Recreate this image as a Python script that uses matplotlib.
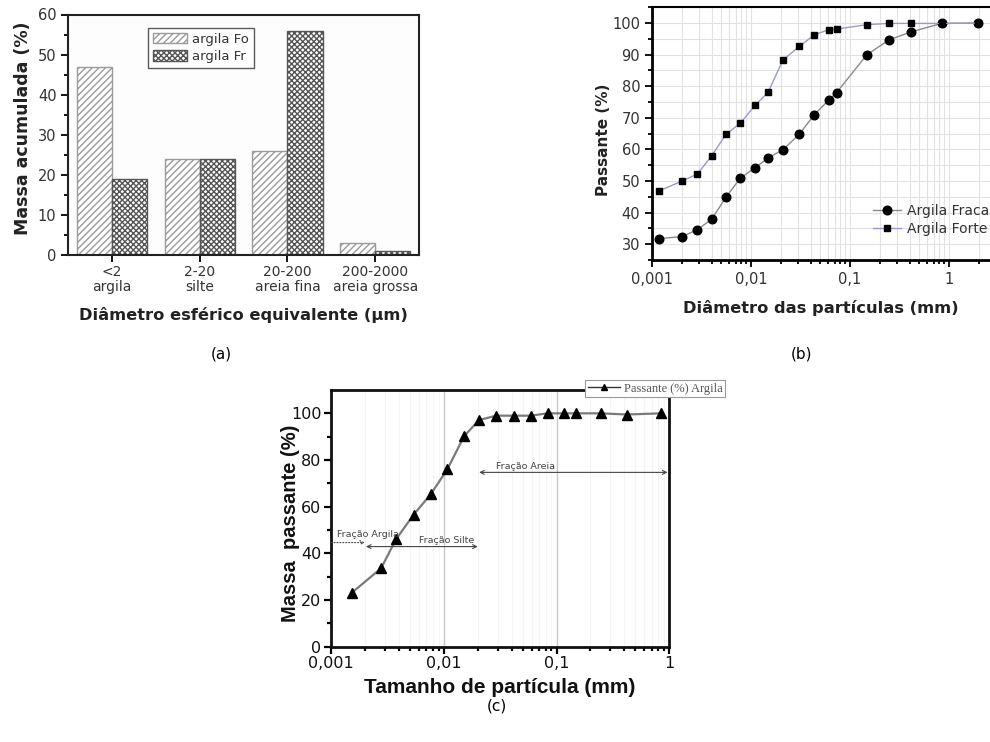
import matplotlib
matplotlib.use("Agg")
import matplotlib.pyplot as plt
import numpy as np
from matplotlib.ticker import (FixedLocator, MultipleLocator, LogLocator,
                               FuncFormatter, NullFormatter)
from matplotlib.lines import Line2D

# ---------------- data ----------------
# (a) cumulative mass per equivalent spherical diameter class
classes = ["<2\nargila", "2-20\nsilte", "20-200\nareia fina", "200-2000\nareia grossa"]
mass_fo = [47, 24, 26, 3]
mass_fr = [19, 24, 56, 1]

# (b) particle size distribution of the two clays
diam_b = [0.00119, 0.00201, 0.00287, 0.00401, 0.00559, 0.0078, 0.0110, 0.0149,
          0.0210, 0.0308, 0.0436, 0.0609, 0.0733, 0.1485, 0.249, 0.413, 0.843, 1.98]
pass_fraca = [31.8, 32.4, 34.6, 37.9, 44.9, 50.9, 54.2, 57.3, 59.9, 64.8,
              71.0, 75.6, 78.0, 90.0, 94.7, 97.2, 99.9, 100.0]
pass_forte = [46.9, 50.0, 52.2, 58.0, 64.8, 68.3, 74.0, 78.1, 88.3, 92.6,
              96.3, 97.9, 98.1, 99.5, 99.9, 99.9, 99.9, 100.0]

# (c) passing mass of the clay
diam_c = [0.00153, 0.00278, 0.00377, 0.00541, 0.00766, 0.01076, 0.0151, 0.0205,
          0.0292, 0.0420, 0.059, 0.0834, 0.1165, 0.149, 0.246, 0.419, 0.844]
pass_c = [23.1, 33.6, 46.0, 56.6, 65.3, 76.0, 90.1, 97.1, 99.0, 99.0, 99.0,
          100.0, 100.0, 100.0, 100.0, 99.5, 100.0]

# size fractions: label, arrow start, arrow end, arrow height, label x, label y
frac_names = ["Fração Argila", "Fração Silte", "Fração Areia"]
frac_start = [0.001, 0.00204, 0.0206]
frac_end = [0.0020, 0.0200, 0.965]
frac_y = [44.6, 42.9, 74.7]
frac_text_x = [0.00113, 0.0106, 0.0526]
frac_text_y = [47.9, 45.4, 77.1]

comma = FuncFormatter(lambda v, _: ("%g" % v).replace(".", ","))

W, H = 990, 742
fig = plt.figure(figsize=(W / 100, H / 100), dpi=100)
fig.patch.set_facecolor("white")


def box(l, t, r, b):
    return [l / W, 1 - b / H, (r - l) / W, (b - t) / H]


# ---------------- (a) ----------------
axa = fig.add_axes(box(68.3, 14.5, 419, 255))
axa.set_facecolor("#fdfdfd")
x = np.arange(len(classes))
bw = 0.4
axa.bar(x - bw / 2, mass_fo, bw, facecolor="white", edgecolor="#9a9a9a",
        hatch="/////", linewidth=1.0, label="argila Fo")
axa.bar(x + bw / 2, mass_fr, bw, facecolor="white", edgecolor="#555555",
        hatch="xxxxxx", linewidth=1.0, label="argila Fr")
axa.set_xlim(-0.5, 3.5)
axa.set_ylim(0, 60)
axa.set_xticks(x)
axa.set_xticklabels(classes, fontsize=10, color="#333333", linespacing=1.1)
axa.yaxis.set_major_locator(MultipleLocator(10))
axa.yaxis.set_minor_locator(MultipleLocator(5))
axa.tick_params(axis="y", which="both", direction="out", labelsize=10.5,
                labelcolor="#333333", width=1.3, right=False)
axa.tick_params(axis="y", which="major", length=5)
axa.tick_params(axis="y", which="minor", length=3)
axa.tick_params(axis="x", direction="out", length=5, width=1.3, pad=2, top=False)
for s in axa.spines.values():
    s.set_linewidth(1.5)
    s.set_color("#222222")
axa.set_ylabel("Massa acumulada (%)", fontsize=12.5, fontweight="bold", color="#222222")
axa.yaxis.set_label_coords(-0.104, 0.528)
axa.set_xlabel("Diâmetro esférico equivalente (µm)", fontsize=11.7,
               fontweight="bold", color="#222222")
axa.xaxis.set_label_coords(0.5, -0.215)
lga = axa.legend(loc="upper left", bbox_to_anchor=(0.227, 0.944), borderaxespad=0,
                 fontsize=9.5, frameon=True, fancybox=False, edgecolor="#333333",
                 handlelength=2.6, handleheight=0.85, handletextpad=0.4,
                 labelspacing=0.35, borderpad=0.35)
lga.get_frame().set_linewidth(1.0)
for t in lga.get_texts():
    t.set_color("#333333")

# ---------------- (b) ----------------
axb = fig.add_axes(box(652, 7.3, 990, 260))
axb.set_xscale("log")
axb.set_xlim(0.001, 2.6)
axb.set_ylim(25, 105)
axb.grid(True, which="both", color="#e2e2e2", linewidth=0.8)
axb.set_axisbelow(True)
axb.plot(diam_b, pass_fraca, color="#8a8a8a", lw=1.0, marker="o", ms=6.2,
         mfc="black", mec="black", label="Argila Fraca")
axb.plot(diam_b, pass_forte, color="#9a9ad0", lw=1.0, marker="s", ms=4.6,
         mfc="black", mec="black", label="Argila Forte")
axb.xaxis.set_major_locator(LogLocator(base=10))
axb.xaxis.set_minor_locator(LogLocator(base=10, subs=np.arange(2, 10)))
axb.xaxis.set_major_formatter(comma)
axb.xaxis.set_minor_formatter(NullFormatter())
axb.yaxis.set_major_locator(FixedLocator(np.arange(30, 101, 10)))
axb.yaxis.set_minor_locator(MultipleLocator(5))
axb.tick_params(which="both", direction="out", labelsize=10.5, labelcolor="#333333",
                width=1.3, top=False, right=False)
axb.tick_params(which="major", length=5)
axb.tick_params(which="minor", length=3)
axb.spines["right"].set_visible(False)
axb.spines["left"].set_linewidth(2.0)
axb.spines["bottom"].set_linewidth(2.0)
axb.spines["top"].set_linewidth(1.5)
axb.set_ylabel("Passante (%)", fontsize=11, fontweight="bold", color="#222222")
axb.yaxis.set_label_coords(-0.122, 0.475)
axb.set_xlabel("Diâmetro das partículas (mm)", fontsize=11.7, fontweight="bold",
               color="#222222")
axb.xaxis.set_label_coords(0.5, -0.158)
lgb = axb.legend(loc="upper left", bbox_to_anchor=(0.655, 0.222), borderaxespad=0,
                 fontsize=10, frameon=False, handlelength=2.0, handletextpad=0.4,
                 labelspacing=0.3, borderpad=0)
for t in lgb.get_texts():
    t.set_color("#333333")

# ---------------- (c) ----------------
axc = fig.add_axes(box(331, 390, 669.3, 646.7))
axc.set_xscale("log")
axc.set_xlim(0.001, 1)
axc.set_ylim(0, 110)
axc.grid(True, which="major", axis="x", color="#c8c8c8", linewidth=1.0)
axc.grid(True, which="minor", axis="x", color="#f4f4f4", linewidth=0.8)
axc.set_axisbelow(True)
axc.plot(diam_c, pass_c, color="#7a7a7a", lw=1.6, marker="^", ms=6.5,
         mfc="black", mec="black", zorder=3)
axc.xaxis.set_major_locator(LogLocator(base=10))
axc.xaxis.set_minor_locator(LogLocator(base=10, subs=np.arange(2, 10)))
axc.xaxis.set_major_formatter(comma)
axc.xaxis.set_minor_formatter(NullFormatter())
axc.yaxis.set_major_locator(FixedLocator(np.arange(0, 101, 20)))
axc.yaxis.set_minor_locator(FixedLocator(np.arange(10, 101, 20)))
axc.tick_params(which="both", direction="out", labelsize=11.5, labelcolor="#111111",
                width=1.6, top=False, right=False, pad=2)
axc.tick_params(which="major", length=5)
axc.tick_params(which="minor", length=3)
for s in axc.spines.values():
    s.set_linewidth(2.0)
    s.set_color("#111111")
axc.set_ylabel("Massa  passante (%)", fontsize=14.5, fontweight="bold",
               family="Liberation Sans", color="#111111")
axc.yaxis.set_label_coords(-0.092, 0.482)
axc.set_xlabel("Tamanho de partícula (mm)", fontsize=15, fontweight="bold",
               family="Liberation Sans", color="#111111")
axc.xaxis.set_label_coords(0.5, -0.123)

for i, name in enumerate(frac_names):
    style = "->" if i == 0 else "<->"
    ls = ":" if i == 0 else "-"
    axc.annotate("", xy=(frac_end[i], frac_y[i]), xytext=(frac_start[i], frac_y[i]),
                 arrowprops=dict(arrowstyle=style, color="#444444", lw=0.8,
                                 linestyle=ls, shrinkA=0, shrinkB=0,
                                 mutation_scale=7))
    axc.text(frac_text_x[i], frac_text_y[i], name, fontsize=6.8,
             color="#444444", ha="left" if i == 0 else "center", va="center")

handle_c = Line2D([], [], color="#333333", lw=1.0, marker="^", ms=5,
                  mfc="black", mec="black")
lgc = fig.legend([handle_c], ["Passante (%) Argila"], loc="upper left",
                 bbox_to_anchor=(585 / W, 1 - 380 / H), borderaxespad=0,
                 prop=dict(family="Liberation Serif", size=9), frameon=True,
                 fancybox=False, edgecolor="#999999", framealpha=1,
                 handlelength=2.6, handletextpad=0.3, borderpad=0.2)
lgc.get_frame().set_linewidth(0.8)
for t in lgc.get_texts():
    t.set_color("#555555")

# ---------------- panel captions ----------------
fig.text(221 / W, 1 - 354 / H, "(a)", fontsize=11, ha="center", va="center")
fig.text(801 / W, 1 - 354 / H, "(b)", fontsize=11, ha="center", va="center")
fig.text(497 / W, 1 - 706 / H, "(c)", fontsize=11, ha="center", va="center")

fig.savefig("out.png", dpi=100, facecolor="white")
